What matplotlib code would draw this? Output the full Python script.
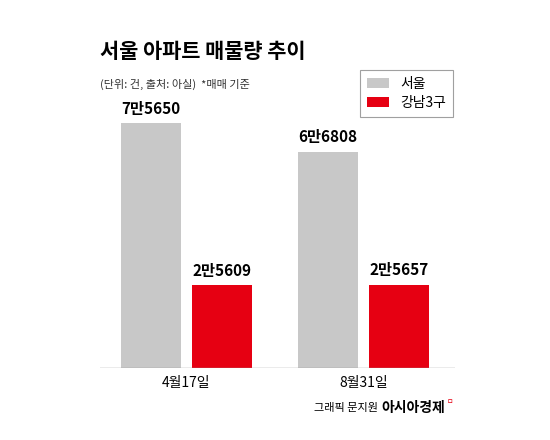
import matplotlib.pyplot as plt
import numpy as np

plt.rcParams['font.family'] = ['Noto Sans CJK KR', 'DejaVu Sans']

# ── Data ──
dates = ["4월17일", "8월31일"]
seoul = [75650, 66808]
gangnam = [25609, 25657]
seoul_labels = ["7만5650", "6만6808"]
gangnam_labels = ["2만5609", "2만5657"]

GRAY = "#c8c8c8"
RED = "#e60012"

fig = plt.figure(figsize=(5.5, 4.4), dpi=100)
ax = fig.add_axes([100 / 550, 72 / 440, 355 / 550, 288 / 440])

x = np.arange(len(dates))
w = 0.339
off = 0.2006
ax.bar(x - off, seoul, w, color=GRAY, label="서울")
ax.bar(x + off, gangnam, w, color=RED, label="강남3구")

for xi, v, t in zip(x - off, seoul, seoul_labels):
    ax.text(xi, v + 2000, t, ha="center", va="bottom", fontsize=11, fontweight="bold")
for xi, v, t in zip(x + off, gangnam, gangnam_labels):
    ax.text(xi, v + 2000, t, ha="center", va="bottom", fontsize=11, fontweight="bold")

ax.set_xlim(-0.4887, 1.517)
ax.set_ylim(0, 75650 * 288 / 245)
ax.axhline(0, color="#999999", linewidth=1)
ax.set_xticks(x)
ax.set_xticklabels(dates, fontsize=10)
ax.tick_params(length=0, pad=6)
ax.set_yticks([])
for s in ax.spines.values():
    s.set_visible(False)

leg = ax.legend(loc="upper left", bbox_to_anchor=(253 / 355, 1.06), fontsize=10,
                frameon=True, fancybox=False, edgecolor="#888888",
                handlelength=1.6, handleheight=0.7, borderpad=0.5, labelspacing=0.4)
leg.get_frame().set_linewidth(0.8)

fig.text(100 / 550, 1 - 52 / 440, "서울 아파트 매물량 추이", fontsize=15, fontweight="bold",
         va="center", ha="left")
fig.text(100 / 550, 1 - 84 / 440, "(단위: 건, 출처: 아실)  *매매 기준", fontsize=8,
         va="center", ha="left", color="#333333")
fig.text(378 / 550, 1 - 408 / 440, "그래픽 문지원", fontsize=8, va="center", ha="right")
fig.text(381 / 550, 1 - 408 / 440, "아시아경제", fontsize=10, fontweight="bold",
         va="center", ha="left")
fig.text(447 / 550, 1 - 402 / 440, "ㅁ", fontsize=5, color=RED, va="center", ha="left")

fig.savefig("out.png", dpi=100)
